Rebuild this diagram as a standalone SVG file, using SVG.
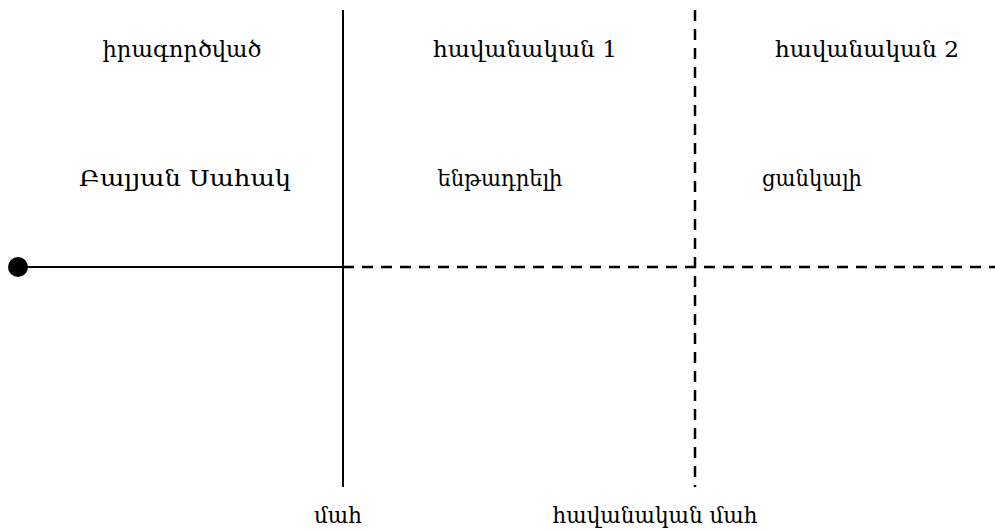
<svg xmlns="http://www.w3.org/2000/svg" width="995" height="531" viewBox="0 0 995 531">
  <style>
    .lbl { font-family: "DejaVu Serif", "Noto Serif", "Liberation Serif", serif; font-size: 22px; fill: #000; text-anchor: middle; }
    .solid { stroke: #000; stroke-width: 2; fill: none; }
    .dash { stroke: #000; stroke-width: 2.5; fill: none; stroke-dasharray: 11 8; }
  </style>
  <rect width="995" height="531" fill="#fff"/>
  <g id="connectors">
    <line class="solid" x1="18" y1="267" x2="343" y2="267"/>
    <line class="dash" x1="343" y1="267" x2="995" y2="267"/>
    <line class="solid" x1="343" y1="10" x2="343" y2="487"/>
    <line class="dash" x1="695" y1="10" x2="695" y2="487"/>
    <circle cx="18" cy="267" r="10" fill="#000"/>
  </g>
  <g id="actual"><text class="lbl" x="182" y="57" textLength="159" lengthAdjust="spacingAndGlyphs">իրագործված</text></g>
  <g id="probable1"><text class="lbl" x="525" y="57" textLength="184" lengthAdjust="spacingAndGlyphs">հավանական 1</text></g>
  <g id="probable2"><text class="lbl" x="867" y="57" textLength="184" lengthAdjust="spacingAndGlyphs">հավանական 2</text></g>
  <g id="person"><text class="lbl" x="185" y="186" textLength="212" lengthAdjust="spacingAndGlyphs">Բալյան Սահակ</text></g>
  <g id="assumed"><text class="lbl" x="500" y="186" textLength="125" lengthAdjust="spacingAndGlyphs">ենթադրելի</text></g>
  <g id="desired"><text class="lbl" x="812" y="186" textLength="100" lengthAdjust="spacingAndGlyphs">ցանկալի</text></g>
  <g id="death"><text class="lbl" x="338" y="523" textLength="48" lengthAdjust="spacingAndGlyphs">մահ</text></g>
  <g id="probable-death"><text class="lbl" x="655" y="523" textLength="205" lengthAdjust="spacingAndGlyphs">հավանական մահ</text></g>
</svg>
